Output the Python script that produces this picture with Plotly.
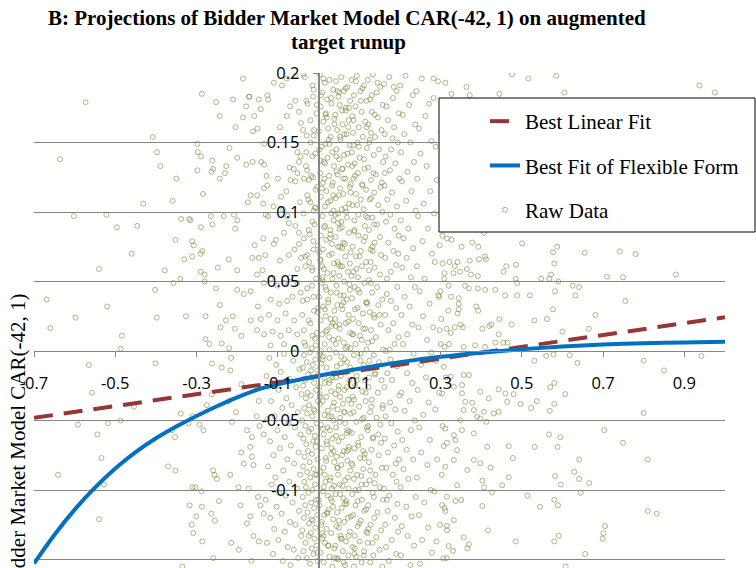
import plotly.graph_objects as go

# ---------------- data ----------------
x_tick_vals = [-0.7, -0.5, -0.3, -0.1, 0.1, 0.3, 0.5, 0.7, 0.9]
x_tick_text = ["-0.7", "-0.5", "-0.3", "-0.1", "0.1", "0.3", "0.5", "0.7", "0.9"]
y_tick_vals = [0.2, 0.15, 0.1, 0.05, 0, -0.05, -0.1, -0.15]
y_tick_text = ["0.2", "0.15", "0.1", "0.05", "0", "-0.05", "-0.1", "-0.15"]

linear_x = [-0.7, 1.0]
linear_y = [-0.0481, 0.0243]

flex_x = [-0.70, -0.65, -0.60, -0.55, -0.50, -0.45, -0.40, -0.35, -0.30, -0.25, -0.20, -0.15,
          -0.10, -0.05, 0.00, 0.05, 0.10, 0.15, 0.20, 0.30, 0.40, 0.50, 0.60, 0.70, 0.80, 0.90, 1.00]
flex_y = [-0.1528, -0.1323, -0.1141, -0.0983, -0.0846, -0.0728, -0.0628, -0.0543, -0.0467,
          -0.0397, -0.0333, -0.0277, -0.0240, -0.0208, -0.0178, -0.0152, -0.0127, -0.0103,
          -0.0080, -0.0042, -0.0012, 0.0012, 0.0032, 0.0046, 0.0056, 0.0062, 0.0066]

raw_left_upper = [
    (-.573,.179),(-.636,.138),(-.602,.097),(-.522,.098),(-.496,.089),(-.446,.090),(-.46,.070),(-.54,.059),
    (-.669,.037),(-.66,.0165),(-.598,.024),(-.52,.032),(-.484,.011),(-.487,.0017),(-.431,.106),(-.408,.154),
    (-.397,.143),(-.389,.133),(-.35,.124),(-.359,.108),(-.352,.080),(-.378,.058),(-.402,.044),(-.398,.024),
    (-.357,.049),(-.34,.052),(-.326,.025),(-.287,.185),(-.298,.149),(-.297,.143),(-.289,.140),(-.298,.130),
    (-.261,.137),(-.259,.131),(-.263,.129),(-.243,.124),(-.227,.133),(-.23,.128),(-.284,.113),(-.338,.095),
    (-.318,.095),(-.315,.094),(-.289,.089),(-.265,.097),(-.261,.091),(-.233,.097),(-.208,.098),(-.2,.094),
    (-.205,.088),(-.311,.079),(-.307,.076),(-.311,.068),(-.33,.066),(-.29,.070),(-.286,.072),(-.29,.057),
    (-.28,.055),(-.28,.050),(-.248,.060),(-.221,.066),(-.2,.058),(-.252,.045),(-.243,.033),(-.278,.025),
    (-.241,.017),(-.238,.0055),(-.278,.0085),(-.268,.005),(-.22,.002),(-.211,.025),(-.228,.022),(-.206,.016),
    (-.19,.011),(-.252,.179),(-.243,.169),(-.21,.181),(-.204,.161),(-.219,.146),(-.2,.139),(-.186,.196),
    (-.178,.176),(-.17,.183),(-.186,.168),
    (-.171,.183),(-.147,.181),(-.126,.184),(-.124,.181),(-.11,.193),(-.09,.191),(-.078,.196),(-.057,.198),
    (-.037,.199),(-.095,.161),(-.078,.169),(-.07,.176),(-.057,.18),(-.048,.172),(-.043,.164),(-.03,.18),
    (-.02,.166),(-.012,.155),(-.161,.158),(-.142,.174),(-.158,.169),(-.15,.16),(-.134,.149),(-.134,.134),
    (-.162,.136),(-.141,.136),(-.178,.134),(-.128,.126),(-.126,.119),(-.134,.117),(-.1,.124),(-.092,.111),
    (-.079,.115),(-.069,.123),(-.057,.122),(-.052,.128),(-.061,.131),(-.071,.132),(-.048,.136),(-.028,.13),
    (-.036,.124),(-.024,.123),(-.03,.143),(-.052,.143),(-.044,.14),(-.015,.14),(-.167,.112),(-.174,.107),
    (-.151,.112),(-.136,.106),(-.13,.098),(-.124,.097),(-.111,.104),(-.087,.102),(-.076,.097),(-.073,.092),
    (-.057,.09),(-.048,.085),(-.085,.085),(-.105,.08),(-.11,.077),(-.136,.081),(-.157,.076),(-.163,.067),
    (-.147,.067),(-.131,.069),(-.095,.065),(-.073,.069),(-.059,.073),(-.048,.077),(-.036,.081),(-.024,.087),
    (-.015,.093),(-.012,.101),(-.02,.107),(-.028,.112),(-.046,.107),(-.007,.116),(-.012,.073),(-.028,.069),
    (-.043,.067),(-.052,.059),(-.032,.061),(-.015,.058),(-.138,.058),(-.151,.055),(-.134,.049),(-.118,.052),
    (-.101,.047),(-.085,.049),(-.069,.053),(-.052,.049),(-.2,.044),(-.184,.041),(-.167,.043),(-.149,.032),
    (-.118,.037),(-.097,.034),(-.077,.036),(-.064,.039),(-.044,.042),(-.028,.037),(-.012,.039),(-.167,.022),
    (-.142,.023),(-.122,.026),(-.101,.022),(-.081,.027),(-.06,.022),(-.04,.026),(-.024,.022),(-.151,.015),
    (-.134,.012),(-.113,.014),(-.093,.011),(-.073,.015),(-.052,.012),(-.036,.015),(-.015,.011),(-.118,.004),
    (-.085,.005),(-.06,.002),(-.032,.004),(-.007,.004),
]

raw_left_lower = [
    (-.565,-.0101),(-.557,-.030),(-.592,-.053),(-.544,-.060),(-.518,-.052),(-.487,-.050),(-.534,-.077),
    (-.641,-.089),(-.528,-.096),(-.54,-.121),(-.401,-.0089),(-.454,-.040),(-.37,-.083),(-.352,-.086),
    (-.353,-.062),(-.36,-.057),(-.317,-.111),(-.312,-.125),(-.308,-.131),(-.286,-.137),(-.335,-.155),
    (-.31,-.098),(-.303,-.098),(-.288,-.101),(-.287,-.112),(-.301,-.119),(-.259,-.086),(-.256,-.089),
    (-.25,-.092),(-.245,-.108),(-.264,-.117),(-.255,-.122),(-.259,-.149),(-.215,-.138),(-.196,-.143),
    (-.217,-.089),(-.197,-.098),(-.192,-.111),(-.19,-.073),(-.184,-.081),(-.262,-.009),(-.238,-.012),
    (-.215,-.005),(-.217,-.014),(-.262,-.031),(-.275,-.039),(-.22,-.036),(-.203,-.044),(-.213,-.051),
    (-.293,-.053),(-.283,-.057),(-.31,-.047),(-.339,-.045),(-.32,-.052),(-.19,-.024),(-.176,-.057),
    (-.164,-.062),(-.168,-.069),(-.164,-.076),(-.16,-.082),(-.172,-.099),(-.168,-.119),(-.176,-.124),
    (-.16,-.133),(-.147,-.137),(-.165,-.151),(-.149,-.105),(-.143,-.111),(-.135,-.117),(-.147,-.036),
    (-.152,-.047),(-.145,-.054),(-.135,-.060),
]

raw_core_neg = [
    (-.085,-.002),(-.121,-.005),(-.062,-.007),(-.104,-.010),(-.047,-.013),(-.093,-.015),(-.128,-.018),
    (-.071,-.020),(-.113,-.023),(-.055,-.026),(-.098,-.028),(-.042,-.031),(-.079,-.034),(-.117,-.036),
    (-.066,-.039),(-.089,-.041),(-.051,-.044),(-.108,-.047),(-.126,-.049),(-.074,-.052),(-.058,-.055),
    (-.101,-.057),(-.044,-.060),(-.083,-.062),(-.119,-.065),(-.068,-.068),(-.095,-.070),(-.049,-.073),
    (-.111,-.075),(-.077,-.078),(-.060,-.081),(-.124,-.083),(-.087,-.086),(-.045,-.089),(-.106,-.091),
    (-.072,-.094),(-.115,-.096),(-.053,-.099),(-.097,-.102),(-.081,-.104),(-.130,-.107),(-.064,-.109),
    (-.103,-.112),(-.048,-.115),(-.091,-.117),(-.119,-.120),(-.070,-.123),(-.057,-.125),(-.109,-.128),
    (-.083,-.130),(-.043,-.133),(-.099,-.136),(-.127,-.138),(-.076,-.141),(-.061,-.143),(-.112,-.146),
    (-.050,-.149),(-.088,-.151),(-.069,-.154),
    (-.021,-.001),(-.036,-.003),(-.008,-.006),(-.029,-.008),(-.014,-.010),(-.039,-.012),(-.003,-.014),
    (-.025,-.017),(-.017,-.019),(-.033,-.021),(-.011,-.023),(-.038,-.025),(-.006,-.028),(-.027,-.030),
    (-.019,-.032),(-.031,-.034),(-.001,-.036),(-.023,-.039),(-.035,-.041),(-.010,-.043),(-.028,-.045),
    (-.015,-.047),(-.040,-.050),(-.005,-.052),(-.032,-.054),(-.018,-.056),(-.024,-.058),(-.009,-.061),
    (-.037,-.063),(-.013,-.065),(-.030,-.067),(-.007,-.069),(-.026,-.072),(-.016,-.074),(-.034,-.076),
    (-.002,-.078),(-.022,-.080),(-.038,-.083),(-.012,-.085),(-.028,-.087),(-.004,-.089),(-.020,-.091),
    (-.035,-.094),(-.009,-.096),(-.031,-.098),(-.015,-.100),(-.025,-.102),(-.039,-.105),(-.006,-.107),
    (-.018,-.109),(-.033,-.111),(-.011,-.113),(-.027,-.116),(-.003,-.118),(-.036,-.120),(-.014,-.122),
    (-.023,-.124),(-.008,-.127),(-.040,-.129),(-.019,-.131),(-.024,-.133),(-.010,-.135),(-.032,-.138),
    (-.005,-.140),(-.017,-.142),(-.037,-.144),(-.012,-.146),(-.029,-.149),(-.002,-.151),(-.021,-.153),
    (-.034,.197),(-.012,.188),(-.027,.178),(-.005,.171),(-.038,.159),(-.019,.150),(-.008,.142),(-.031,.133),
    (-.014,.125),(-.003,.118),(-.025,.109),(-.037,.099),(-.010,.091),(-.022,.084),(-.002,.076),(-.033,.068),
    (-.016,.060),(-.006,.052),(-.028,.045),(-.039,.036),(-.011,.029),(-.020,.020),(-.004,.013),(-.035,.006),
    (-.017,.002),(-.001,.031),(-.023,.064),(-.009,.103),(-.029,.155),(-.013,.183),
]

raw_core_a = [  # 0.00 - 0.04
    (.003,.199),(.027,.195),(.015,.193),(.036,.188),(.009,.186),(.021,.181),(.032,.178),(.005,.176),
    (.018,.171),(.039,.167),(.012,.165),(.024,.160),(.001,.158),(.030,.154),(.017,.149),(.008,.147),
    (.034,.143),(.022,.139),(.013,.136),(.038,.133),(.004,.128),(.026,.126),(.011,.121),(.033,.119),
    (.019,.115),(.006,.111),(.029,.108),(.016,.104),(.037,.101),(.010,.097),(.037,.094),(.016,.090),
    (.029,.087),(.006,.083),(.019,.080),(.033,.077),(.011,.073),(.026,.069),(.004,.066),(.038,.063),
    (.013,.059),(.022,.056),(.034,.052),(.008,.049),(.017,.046),(.030,.042),(.001,.039),(.024,.035),
    (.012,.032),(.039,.029),(.018,.025),(.005,.022),(.032,.018),(.021,.015),(.009,.012),(.036,.008),
    (.015,.005),(.027,.001),(.003,-.002),(.010,-.006),(.007,-.009),(.020,-.012),(.038,-.016),(.014,-.019),
    (.026,-.023),(.002,-.026),(.031,-.029),(.019,-.033),(.010,-.036),(.035,-.040),(.023,-.043),(.015,-.046),
    (.037,-.050),(.006,-.053),(.028,-.057),(.013,-.060),(.034,-.063),(.021,-.067),(.008,-.070),(.031,-.074),
    (.018,-.077),(.039,-.080),(.012,-.084),(.004,-.087),(.029,-.091),(.017,-.094),(.038,-.097),(.011,-.101),
    (.023,-.104),(.033,-.108),(.002,-.111),(.025,-.114),(.014,-.118),(.036,-.121),(.007,-.125),(.020,-.128),
    (.031,-.131),(.009,-.135),(.016,-.138),(.039,-.142),(.005,-.145),(.027,-.148),(.013,-.152),(.034,-.155),
    (.006,.184),(.025,.152),(.014,.124),(.031,.099),(.002,.071),(.019,.044),(.035,.020),(.011,-.004),
    (.028,-.021),(.004,-.038),(.022,-.055),(.037,-.072),(.015,-.089),(.030,-.106),(.008,-.123),(.024,-.140),
    (.017,.170),(.036,.112),(.009,.061),(.026,.010),(.003,-.031),(.020,-.065),(.033,-.099),(.012,-.133),
    (.028,.081),(.016,.030),(.005,.137),(.032,-.047),(.021,-.116),(.010,.053),
]

raw_core_b = [  # 0.04 - 0.08
    (.056,.197),(.043,.194),(.071,.190),(.062,.187),(.049,.183),(.078,.180),(.052,.177),(.067,.173),
    (.041,.170),(.074,.166),(.059,.163),(.046,.159),(.069,.156),(.054,.152),(.077,.148),(.044,.145),
    (.063,.141),(.051,.138),(.072,.134),(.058,.131),(.047,.127),(.066,.124),(.079,.120),(.053,.117),
    (.061,.113),(.042,.110),(.075,.106),(.057,.102),(.048,.099),(.070,.096),(.048,.092),(.057,.089),
    (.075,.085),(.042,.082),(.061,.078),(.053,.075),(.079,.071),(.066,.068),(.047,.064),(.058,.061),
    (.072,.057),(.051,.054),(.063,.050),(.044,.047),(.077,.044),(.054,.040),(.069,.037),(.046,.033),
    (.059,.030),(.074,.026),(.041,.023),(.067,.020),(.052,.016),(.078,.013),(.049,.009),(.062,.006),
    (.071,.003),(.043,-.001),(.056,-.004),(.070,-.008),(.045,-.011),(.068,-.015),(.055,-.018),(.076,-.021),
    (.050,-.025),(.064,-.028),(.041,-.031),(.073,-.035),(.060,-.038),(.047,-.042),(.079,-.045),(.053,-.048),
    (.066,-.052),(.043,-.055),(.070,-.059),(.058,-.062),(.049,-.065),(.075,-.069),(.062,-.072),(.044,-.076),
    (.071,-.079),(.056,-.082),(.078,-.086),(.048,-.089),(.065,-.093),(.052,-.096),(.074,-.099),(.042,-.103),
    (.061,-.106),(.069,-.110),(.057,-.113),(.046,-.116),(.072,-.120),(.063,-.123),(.050,-.127),(.077,-.130),
    (.054,-.133),(.068,-.137),(.041,-.140),(.060,-.144),(.073,-.147),(.048,-.150),(.065,-.154),
    (.051,.186),(.073,.161),(.044,.129),(.066,.103),(.058,.074),(.076,.048),(.042,.018),(.064,-.006),
    (.053,-.033),(.071,-.057),(.047,-.084),(.068,-.108),(.055,-.135),(.077,.118),(.049,.062),(.061,.035),
    (.043,-.019),(.074,-.071),(.059,-.097),(.046,-.149),(.067,.175),(.052,.088),(.079,.002),(.063,-.044),
    (.050,-.122),
]

raw_core_c = [  # 0.08 - 0.12
    (.094,.198),(.081,.195),(.112,.191),(.103,.187),(.087,.184),(.118,.180),(.091,.176),(.106,.172),
    (.083,.169),(.115,.165),(.099,.161),(.085,.157),(.109,.154),(.096,.150),(.119,.146),(.082,.143),
    (.101,.139),(.089,.135),(.113,.131),(.097,.128),(.086,.124),(.107,.120),(.117,.116),(.092,.113),
    (.104,.109),(.084,.105),(.111,.102),(.098,.098),(.088,.094),(.114,.090),(.088,.087),(.098,.083),
    (.111,.079),(.084,.075),(.104,.072),(.092,.068),(.117,.064),(.107,.061),(.086,.057),(.097,.053),
    (.113,.049),(.089,.046),(.101,.042),(.082,.038),(.119,.034),(.096,.031),(.109,.027),(.085,.023),
    (.099,.020),(.115,.016),(.083,.012),(.106,.008),(.091,.005),(.118,.001),(.087,-.003),(.103,-.007),
    (.112,-.010),(.081,-.014),(.094,-.018),(.114,-.021),(.090,-.025),(.108,-.029),(.084,-.033),(.116,-.036),
    (.100,-.040),(.086,-.044),(.111,-.048),(.093,-.051),(.119,-.055),(.082,-.059),(.105,-.062),(.097,-.066),
    (.088,-.070),(.114,-.074),(.102,-.077),(.081,-.081),(.110,-.085),(.095,-.089),(.087,-.092),(.117,-.096),
    (.099,-.100),(.083,-.103),(.107,-.107),(.091,-.111),(.113,-.115),(.085,-.118),(.104,-.122),(.096,-.126),
    (.118,-.130),(.089,-.133),(.101,-.137),(.084,-.141),(.112,-.144),(.093,-.148),(.106,-.152),(.087,-.155),
    (.108,.189),(.085,.148),(.116,.097),(.093,.059),(.102,.011),(.081,-.038),(.110,-.072),(.096,-.108),
    (.088,-.146),(.117,.035),(.090,.126),(.105,-.090),
]

raw_core_d = [  # 0.12 - 0.16
    (.134,.199),(.121,.195),(.152,.190),(.143,.186),(.127,.181),(.158,.177),(.131,.172),(.146,.168),
    (.123,.163),(.155,.159),(.139,.154),(.125,.150),(.149,.145),(.136,.141),(.159,.136),(.122,.132),
    (.141,.127),(.129,.123),(.153,.118),(.137,.114),(.126,.109),(.147,.105),(.157,.100),(.132,.096),
    (.144,.091),(.124,.087),(.151,.082),(.138,.078),(.128,.073),(.154,.069),(.128,.064),(.138,.060),
    (.151,.055),(.124,.051),(.144,.046),(.132,.042),(.157,.037),(.147,.033),(.126,.028),(.137,.024),
    (.153,.019),(.129,.015),(.141,.010),(.122,.006),(.159,.001),(.136,-.003),(.149,-.008),(.125,-.012),
    (.139,-.017),(.155,-.021),(.123,-.026),(.146,-.030),(.131,-.035),(.158,-.039),(.127,-.044),(.143,-.048),
    (.152,-.053),(.121,-.057),(.134,-.062),(.154,-.066),(.130,-.071),(.148,-.075),(.124,-.080),(.156,-.084),
    (.140,-.089),(.126,-.093),(.151,-.098),(.133,-.102),(.159,-.107),(.122,-.111),(.145,-.116),(.137,-.120),
    (.128,-.125),(.154,-.129),(.142,-.134),(.121,-.138),(.150,-.143),(.135,-.147),(.127,-.152),(.157,-.155),
    (.145,.193),(.129,.157),(.156,.121),(.133,.075),(.150,.026),(.124,-.019),(.147,-.060),(.138,-.095),
    (.121,-.131),(.158,-.041),
]

raw_core_e = [  # 0.16 - 0.20
    (.174,.197),(.161,.192),(.192,.187),(.183,.182),(.167,.176),(.198,.171),(.171,.166),(.186,.161),
    (.163,.156),(.195,.150),(.179,.145),(.165,.140),(.189,.135),(.176,.130),(.199,.124),(.162,.119),
    (.181,.114),(.169,.109),(.193,.104),(.177,.098),(.166,.093),(.187,.088),(.197,.083),(.172,.078),
    (.184,.072),(.164,.067),(.191,.062),(.178,.057),(.168,.052),(.194,.046),(.168,.041),(.178,.036),
    (.191,.031),(.164,.026),(.184,.020),(.172,.015),(.197,.010),(.187,.005),(.166,.000),(.177,-.006),
    (.193,-.011),(.169,-.016),(.181,-.021),(.162,-.026),(.199,-.032),(.176,-.037),(.189,-.042),(.165,-.047),
    (.179,-.052),(.195,-.058),(.163,-.063),(.186,-.068),(.171,-.073),(.198,-.078),(.167,-.084),(.183,-.089),
    (.192,-.094),(.161,-.099),(.174,-.104),(.194,-.110),(.170,-.115),(.188,-.120),(.164,-.125),(.196,-.130),
    (.180,-.136),(.166,-.141),(.191,-.146),(.173,-.151),
    (.185,.190),(.163,.128),(.196,.070),(.175,.001),(.190,-.081),(.168,-.107),(.182,.153),
]

raw_core_f = [  # 0.20 - 0.24
    (.214,.198),(.201,.191),(.232,.184),(.223,.177),(.207,.170),(.238,.163),(.211,.156),(.226,.150),
    (.203,.143),(.235,.136),(.219,.129),(.205,.122),(.229,.115),(.216,.108),(.239,.101),(.202,.094),
    (.221,.088),(.209,.081),(.233,.074),(.217,.067),(.206,.060),(.227,.053),(.237,.046),(.212,.039),
    (.224,.032),(.204,.026),(.231,.019),(.218,.012),(.208,.005),(.234,-.002),(.208,-.009),(.218,-.016),
    (.231,-.023),(.204,-.030),(.224,-.036),(.212,-.043),(.237,-.050),(.227,-.057),(.206,-.064),(.217,-.071),
    (.233,-.078),(.209,-.085),(.221,-.092),(.202,-.098),(.239,-.105),(.216,-.112),(.229,-.119),(.205,-.126),
    (.219,-.133),(.235,-.140),(.203,-.147),(.226,-.154),
]

raw_core_g = [  # 0.24 - 0.32
    (.254,.196),(.241,.187),(.272,.178),(.263,.169),(.247,.160),(.278,.151),(.251,.142),(.266,.133),
    (.243,.124),(.275,.115),(.259,.106),(.245,.097),(.269,.088),(.256,.079),(.279,.070),(.242,.061),
    (.261,.052),(.249,.043),(.273,.034),(.257,.025),(.246,.017),(.267,.008),(.277,-.001),(.252,-.010),
    (.264,-.019),(.244,-.028),(.271,-.037),(.258,-.046),(.248,-.055),(.274,-.064),(.253,-.073),(.268,-.082),
    (.242,-.091),(.276,-.100),(.260,-.109),(.247,-.118),(.270,-.127),(.255,-.136),(.279,-.145),(.250,-.153),
    (.294,.194),(.283,.182),(.311,.170),(.302,.158),(.288,.147),(.317,.135),(.291,.123),(.306,.111),
    (.284,.099),(.314,.088),(.298,.076),(.286,.064),(.309,.052),(.295,.040),(.319,.029),(.282,.017),
    (.301,.005),(.289,-.007),(.313,-.019),(.297,-.030),(.287,-.042),(.305,-.054),(.316,-.066),(.292,-.078),
    (.303,-.089),(.285,-.101),(.310,-.113),(.299,-.125),(.290,-.137),(.315,-.149),
]

raw_core_h = [  # extra density -0.02 - 0.14
    (.012,.196),(-.015,.191),(.047,.187),(.031,.182),(-.004,.177),(.058,.173),(.020,.168),(.039,.163),
    (-.011,.159),(.053,.154),(.026,.149),(.002,.145),(.044,.140),(.016,.135),(.059,.131),(-.018,.126),
    (.035,.121),(.008,.117),(.050,.112),(.023,.107),(-.007,.103),(.041,.098),(.056,.093),(.014,.089),
    (.029,.084),(-.013,.079),(.048,.075),(.033,.070),(.005,.065),(.054,.061),(.037,.056),(.010,.051),
    (-.016,.047),(.045,.042),(.024,.037),(.057,.033),(-.002,.028),(.030,.023),(.051,.019),(.018,.014),
    (-.009,.009),(.042,.005),(.006,.000),(.027,-.005),(.055,-.009),(-.019,-.014),(.034,-.019),(.015,-.023),
    (.049,-.028),(.003,-.033),(.038,-.037),(-.012,-.042),(.025,-.047),(.052,-.051),(.011,-.056),(.043,-.061),
    (-.005,-.065),(.032,-.070),(.058,-.075),(.019,-.079),(.046,-.084),(-.008,-.089),(.028,-.093),(.013,-.098),
    (.053,-.103),(.000,-.107),(.036,-.112),(.021,-.117),(-.017,-.121),(.044,-.126),(.009,-.131),(.057,-.135),
    (.024,-.140),(-.003,-.145),(.040,-.149),
    (.092,.194),(.067,.189),(.131,.184),(.104,.180),(.075,.175),(.138,.170),(.086,.166),(.118,.161),
    (.063,.156),(.126,.152),(.099,.147),(.071,.142),(.112,.138),(.083,.133),(.135,.128),(.061,.124),
    (.108,.119),(.079,.114),(.129,.110),(.095,.105),(.068,.100),(.121,.096),(.137,.091),(.088,.086),
    (.115,.082),(.065,.077),(.133,.072),(.101,.068),(.077,.063),(.124,.058),(.081,.054),(.128,.049),
    (.097,.044),(.062,.040),(.119,.035),(.090,.030),(.136,.026),(.073,.021),(.110,.016),(.085,.012),
    (.132,.007),(.066,.002),(.103,-.002),(.125,-.007),(.078,-.012),(.139,-.016),(.094,-.021),(.069,-.026),
    (.116,-.030),(.087,-.035),(.130,-.040),(.064,-.044),(.107,-.049),(.122,-.054),(.076,-.058),(.134,-.063),
    (.098,-.068),(.070,-.072),(.113,-.077),(.084,-.082),(.127,-.086),(.072,-.091),(.106,-.096),(.091,-.100),
    (.136,-.105),(.065,-.110),(.117,-.114),(.080,-.119),(.100,-.124),(.123,-.128),(.074,-.133),(.133,-.138),
    (.089,-.142),(.111,-.147),(.062,-.152),
]

raw_mid = [  # 0.30 - 0.50
    (.305,.083),(.316,.081),(.327,.080),(.352,.075),(.378,.078),(.393,.075),(.407,.085),(.410,.068),
    (.412,.066),(.395,.066),(.372,.065),(.342,.064),(.322,.064),(.305,.063),(.335,.061),(.365,.059),
    (.310,.056),(.332,.056),(.348,.057),(.375,.055),(.392,.054),(.360,.047),(.370,.045),(.392,.045),
    (.410,.044),(.435,.044),(.320,.047),(.300,.043),(.297,.039),(.326,.039),(.345,.038),(.345,.034),
    (.388,.032),(.393,.029),(.345,.030),(.342,.027),(.302,.023),(.298,.015),(.315,.016),(.335,.017),
    (.325,.013),(.350,.019),(.355,.017),(.403,.016),(.420,.018),(.425,.019),(.445,.023),(.443,.012),
    (.475,.019),(.465,.006),(.455,.006),(.435,.006),(.410,.003),(.385,.004),(.357,.003),(.321,.005),
    (.310,.003),(.455,.057),(.462,.061),(.486,.062),(.485,.052),(.489,.049),(.489,.040),(.459,.040),
    (.308,-.0113),(.325,-.0185),(.357,-.0173),(.370,-.0173),(.353,-.0245),(.304,-.0305),(.333,-.0257),
    (.353,-.0305),(.398,-.0293),(.419,-.0341),(.443,-.0276),(.460,-.0305),(.480,-.031),(.464,-.0365),
    (.497,-.0382),(.361,-.0365),(.378,-.0372),(.357,-.0425),(.382,-.0425),(.407,-.0437),(.431,-.0449),
    (.443,-.0437),(.390,-.0473),(.398,-.0485),(.413,-.0509),(.349,-.0497),(.312,-.0557),(.333,-.0605),
    (.353,-.0569),(.337,-.0641),(.341,-.0713),(.382,-.0593),(.415,-.0689),(.468,-.0684),(.308,-.0684),
    (.312,-.0832),(.333,-.0784),(.366,-.0856),(.398,-.0808),(.423,-.0839),(.382,-.0784),(.403,-.0933),
    (.452,-.0966),(.407,-.0981),(.427,-.1017),(.468,-.0909),(.341,-.0966),(.316,-.1048),(.337,-.1079),
    (.351,-.1072),(.304,-.1108),(.312,-.1151),(.403,-.1115),(.316,-.1259),(.316,-.1288),(.333,-.1216),
    (.357,-.134),(.370,-.139),(.320,-.1403),(.331,-.1437),(.366,-.142),(.307,-.1492),
    (.283,.196),(.312,.193),(.364,.19),(.327,.185),(.372,.184),(.445,.185),(.476,.199),
]

raw_right = [  # 0.50 - 1.00
    (.516,.196),(.585,.198),(.605,.186),(.937,.191),(.975,.186),
    (.501,.0775),(.587,.075),(.577,.071),(.58,.063),(.655,.0707),(.741,.0717),(.78,.0698),(.879,.055),
    (.71,.0535),(.749,.053),(.572,.055),(.548,.052),(.568,.052),(.59,.050),(.625,.047),(.641,.046),
    (.632,.040),(.582,.043),(.52,.040),(.755,.036),(.577,.030),(.681,.026),(.531,.022),(.562,.023),
    (.665,.016),(.6,.014),(.56,-.0035),(.578,-.0025),(.618,-.003),(.637,-.0085),(.531,-.007),(.8,-.007),
    (.942,-.0036),(.85,-.014),(.58,-.023),(.57,-.026),(.607,-.031),(.58,-.038),(.569,-.043),(.537,-.036),
    (.523,-.041),(.8,-.0446),(.703,-.057),(.567,-.060),(.595,-.062),(.749,-.066),(.588,-.069),(.532,-.069),
    (.641,-.078),(.81,-.078),(.478,-.077),(.629,-.087),(.582,-.090),(.596,-.096),(.641,-.092),(.666,-.095),
    (.645,-.102),(.58,-.107),(.589,-.111),(.514,-.104),(.545,-.112),(.81,-.115),(.832,-.117),(.705,-.126),
    (.701,-.131),(.699,-.135),(.591,-.133),(.58,-.137),(.656,-.146),(.608,-.155),(.485,-.137),(.417,-.129),
]

raw_groups = [raw_left_upper, raw_left_lower, raw_core_neg, raw_core_a, raw_core_b, raw_core_c,
              raw_core_d, raw_core_e, raw_core_f, raw_core_g, raw_core_h, raw_mid, raw_right]
raw_x = [p[0] for g in raw_groups for p in g]
raw_y = [p[1] for g in raw_groups for p in g]

# ---------------- layout geometry ----------------
W, H = 756, 568
ML, MR, MT, MB = 34, 31, 73, 0
PW, PH = W - ML - MR, H - MT - MB
X_RANGE = [-0.7, 1.0]
Y_RANGE = [-0.1561, 0.2]


def px_to_paper_x(px):
    return (px - ML) / PW


def px_to_paper_y(py):
    return (H - MB - py) / PH


serif = "Liberation Serif"
sans = "Open Sans"
grid_col = "#868686"

fig = go.Figure()

fig.add_trace(go.Scatter(
    x=raw_x, y=raw_y, mode="markers", name="Raw Data",
    legendgroup="c", legendrank=3,
    marker=dict(symbol="circle-open", size=5,
                line=dict(width=1, color="rgba(118,146,60,0.62)"),
                color="rgba(118,146,60,0.62)"),
    hoverinfo="skip",
))
fig.add_trace(go.Scatter(
    x=linear_x, y=linear_y, mode="lines", name="Best Linear Fit",
    legendgroup="a", legendrank=1,
    line=dict(color="#953735", width=4, dash="19px,11px"),
))
fig.add_trace(go.Scatter(
    x=flex_x, y=flex_y, mode="lines", name="Best Fit of Flexible Form",
    legendgroup="b", legendrank=2,
    line=dict(color="#0070C0", width=4, shape="spline", smoothing=0.8),
))

zero_x_frac = (0 - X_RANGE[0]) / (X_RANGE[1] - X_RANGE[0])
zero_y_frac = (0 - Y_RANGE[0]) / (Y_RANGE[1] - Y_RANGE[0])

fig.update_layout(
    width=W, height=H,
    margin=dict(l=ML, r=MR, t=MT, b=MB, pad=0, autoexpand=False),
    paper_bgcolor="white", plot_bgcolor="white",
    font=dict(family=serif, size=21, color="black"),
    showlegend=True,
    legend=dict(
        x=px_to_paper_x(485), y=px_to_paper_y(101), xanchor="left", yanchor="top",
        bgcolor="rgba(0,0,0,0)", borderwidth=0,
        font=dict(family=serif, size=21, color="black"),
        tracegroupgap=14,
    ),
    xaxis=dict(
        range=X_RANGE, anchor="free", position=zero_y_frac, automargin=False,
        showgrid=False, zeroline=False,
        showline=True, linecolor=grid_col, linewidth=1,
        ticks="outside", ticklen=5, tickcolor=grid_col, tickwidth=1,
        tickvals=x_tick_vals, ticktext=x_tick_text,
        tickfont=dict(family=sans, size=16.5, color="black"),
        ticklabelstandoff=12,
    ),
    yaxis=dict(
        range=Y_RANGE, anchor="free", position=zero_x_frac, automargin=False,
        showgrid=True, gridcolor=grid_col, gridwidth=1,
        zeroline=False,
        showline=True, linecolor=grid_col, linewidth=1.5,
        ticks="outside", ticklen=5, tickcolor=grid_col, tickwidth=1,
        tickvals=y_tick_vals, ticktext=y_tick_text,
        tickfont=dict(family=sans, size=16.5, color="black"),
        ticklabelstandoff=10,
    ),
    shapes=[dict(
        type="rect", xref="paper", yref="paper", layer="above",
        x0=px_to_paper_x(439), x1=px_to_paper_x(755),
        y0=px_to_paper_y(232), y1=px_to_paper_y(98),
        line=dict(color="black", width=1), fillcolor="white",
    )],
    annotations=[
        dict(text="B: Projections of Bidder Market Model CAR(-42, 1) on augmented",
             xref="paper", yref="paper", x=px_to_paper_x(347), y=px_to_paper_y(18),
             xanchor="center", yanchor="middle", showarrow=False,
             font=dict(family=serif, size=21, color="black", weight="bold")),
        dict(text="target runup",
             xref="paper", yref="paper", x=px_to_paper_x(348), y=px_to_paper_y(42),
             xanchor="center", yanchor="middle", showarrow=False,
             font=dict(family=serif, size=21, color="black", weight="bold")),
        dict(text="Bidder Market Model CAR(-42, 1)",
             xref="paper", yref="paper", x=px_to_paper_x(18), y=px_to_paper_y(441),
             xanchor="center", yanchor="middle", showarrow=False, textangle=-90,
             font=dict(family=serif, size=21, color="black")),
    ],
)

# remove the default 8px page margin so the figure sits at the window's top-left corner
fig.write_html("out.html",
               config={"displayModeBar": False},
               post_script="document.body.style.margin='0';document.body.style.overflow='hidden';")
